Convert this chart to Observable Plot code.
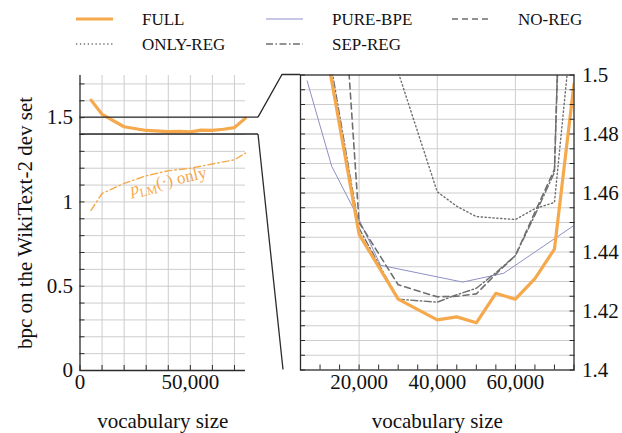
<!DOCTYPE html>
<html><head><meta charset="utf-8">
<script src="https://cdn.jsdelivr.net/npm/d3@7"></script>
<script src="https://cdn.jsdelivr.net/npm/@observablehq/plot@0.6"></script>
<style>
body{margin:0;background:#fff;}
#chart{position:relative;width:622px;height:433px;background:#fff;font-family:"Liberation Serif",LiberationSerif,"DejaVu Serif",serif;}
#chart svg{position:absolute;left:0;top:0;}
#chart svg, #chart svg text{font-family:"Liberation Serif",LiberationSerif,"DejaVu Serif",serif !important;}
</style></head><body><div id="chart"></div>
<script>
// ---- data ----
const seriesNames = ["FULL", "PURE-BPE", "NO-REG", "ONLY-REG", "SEP-REG"];
const vocabFull  = [5000, 10000, 20000, 30000, 40000, 45000, 50000, 55000, 60000, 65000, 70000, 75000];
const bpcFull    = [1.604, 1.52, 1.446, 1.424, 1.417, 1.418, 1.416, 1.426, 1.424, 1.431, 1.441, 1.497];
const vocabBpe   = [6700, 13000, 20000, 25500, 46500, 57000, 75000];
const bpcBpe     = [1.498, 1.469, 1.451, 1.4355, 1.4298, 1.4328, 1.449];
const vocabNoReg = [15000, 20000, 30000, 40000, 45000, 50000, 55000, 60000, 65000, 70000, 75000];
const bpcNoReg   = [1.548, 1.450, 1.4289, 1.4248, 1.425, 1.4258, 1.4325, 1.4388, 1.4535, 1.468, 1.68];
const vocabOnlyReg = [20000, 30000, 40000, 45000, 50000, 60000, 65000, 70000, 75000];
const bpcOnlyReg   = [1.60, 1.501, 1.4604, 1.4555, 1.452, 1.451, 1.4547, 1.4568, 1.524];
const vocabSepReg  = [10000, 20000, 30000, 40000, 45000, 50000, 55000, 60000, 65000, 70000, 75000];
const bpcSepReg    = [1.525, 1.448, 1.424, 1.423, 1.4255, 1.4277, 1.433, 1.4388, 1.4525, 1.467, 1.70];
const vocabPlm = [5000, 10000, 20000, 30000, 40000, 50000, 60000, 70000, 75000];
const bpcPlm   = [0.95, 1.05, 1.11, 1.155, 1.185, 1.20, 1.225, 1.25, 1.29];
const leftTicksX = [0, 50000];
const leftTicksY = [0, 0.5, 1, 1.5];
const rightTicksX = [20000, 40000, 60000];
const rightTicksY = [1.4, 1.42, 1.44, 1.46, 1.48, 1.5];
const xLabel = "vocabulary size";
const yLabel = "bpc on the WikiText-2 dev set";

// ---- styling ----
const W = 622, H = 433;
const FONT = '"Liberation Serif", LiberationSerif, "DejaVu Serif", serif';
const C = {orange: "#f5a94c", bpe: "#8d8fc4", gray: "#6f6f6f", grid: "#cdcdcd", axis: "#2b2b2b"};
const styles = {
  "FULL":     {stroke: C.orange, strokeWidth: 3.2, strokeDasharray: null},
  "PURE-BPE": {stroke: C.bpe, strokeWidth: 1, strokeDasharray: null},
  "NO-REG":   {stroke: C.gray, strokeWidth: 1.6, strokeDasharray: "6,4"},
  "ONLY-REG": {stroke: C.gray, strokeWidth: 1.4, strokeDasharray: "1.3,2.6"},
  "SEP-REG":  {stroke: C.gray, strokeWidth: 1.4, strokeDasharray: "7,2.5,1.5,2.5"}
};
const rows = (xs, ys) => xs.map((x, i) => ({x, y: ys[i]}));
const fullRows = rows(vocabFull, bpcFull);
const seriesRows = {
  "FULL": fullRows,
  "PURE-BPE": rows(vocabBpe, bpcBpe),
  "NO-REG": rows(vocabNoReg, bpcNoReg),
  "ONLY-REG": rows(vocabOnlyReg, bpcOnlyReg),
  "SEP-REG": rows(vocabSepReg, bpcSepReg)
};
const rng = (a, b, s) => d3.range(Math.round((b - a) / s) + 1).map(i => +(a + i * s).toFixed(4));
const baseStyle = {background: "transparent", fontFamily: FONT, fontSize: "21px", overflow: "visible", color: C.axis};

// ---- left panel ----
const left = Plot.plot({
  width: W, height: H,
  marginLeft: 79.5, marginRight: W - 245, marginTop: 75, marginBottom: H - 370,
  style: baseStyle,
  x: {domain: [0, 75000], label: null},
  y: {domain: [0, 1.75], label: null},
  marks: [
    Plot.gridX(rng(10000, 70000, 10000), {stroke: C.grid, strokeOpacity: 1}),
    Plot.gridY(rng(0.1, 1.7, 0.1), {stroke: C.grid, strokeOpacity: 1}),
    Plot.ruleX([0], {stroke: C.axis, strokeWidth: 1.3}),
    Plot.ruleY([0], {stroke: C.axis, strokeWidth: 1.3}),
    Plot.axisY(rng(0, 1.7, 0.1), {anchor: "left", tickSize: 5, dx: 5, tickFormat: () => "", label: null, stroke: C.axis}),
    Plot.axisX(rng(0, 70000, 10000), {anchor: "bottom", tickSize: 5, dy: -5, tickFormat: () => "", label: null, stroke: C.axis}),
    Plot.axisY(leftTicksY, {anchor: "left", tickSize: 0, tickPadding: 7, tickFormat: d => String(d), label: null, fontSize: 21, fill: "#111"}),
    Plot.axisX(leftTicksX, {anchor: "bottom", tickSize: 0, tickPadding: 4, tickFormat: d3.format(","), label: null, fontSize: 21, fill: "#111"}),
    Plot.line(rows(vocabPlm, bpcPlm), {x: "x", y: "y", stroke: C.orange, strokeWidth: 1.4, strokeDasharray: "7,3,1.5,3"}),
    Plot.line(fullRows, {x: "x", y: "y", ...styles["FULL"]}),
    Plot.text([{x: 40000, y: 1.125}], {x: "x", y: "y", text: () => "pLM(·) only", rotate: -13, fill: C.orange, fontSize: 17, className: "plm-label"}),
    Plot.text([xLabel], {text: d => d, frameAnchor: "bottom", lineAnchor: "middle", textAnchor: "middle", dy: 51, fontSize: 21, fill: "#111"}),
    Plot.text([yLabel], {text: d => d, frameAnchor: "left", lineAnchor: "middle", textAnchor: "middle", rotate: -90, dx: -55, fontSize: 21, fill: "#111"})
  ]
});

// ---- right panel (zoom 1.4 .. 1.5) ----
const lineOrder = ["ONLY-REG", "PURE-BPE", "NO-REG", "SEP-REG", "FULL"];
const right = Plot.plot({
  width: W, height: H,
  marginLeft: 300, marginRight: W - 573.5, marginTop: 74.5, marginBottom: H - 369.5,
  style: baseStyle,
  x: {domain: [5000, 75000], label: null},
  y: {domain: [1.4, 1.5], label: null},
  marks: [
    Plot.gridX(rightTicksX, {stroke: C.grid, strokeOpacity: 1}),
    Plot.gridY(rng(1.405, 1.495, 0.005), {stroke: C.grid, strokeOpacity: 1}),
    ...lineOrder.map(n => Plot.line(seriesRows[n], {x: "x", y: "y", clip: true, ...styles[n]})),
    Plot.frame({stroke: C.axis, strokeWidth: 1.3}),
    Plot.axisY(rng(1.4, 1.5, 0.005), {anchor: "left", tickSize: 5, dx: 5, tickFormat: () => "", label: null, stroke: C.axis}),
    Plot.axisY(rng(1.4, 1.5, 0.005), {anchor: "right", tickSize: 5, dx: -5, tickFormat: () => "", label: null, stroke: C.axis}),
    Plot.axisX(rng(5000, 75000, 5000), {anchor: "bottom", tickSize: 5, dy: -5, tickFormat: () => "", label: null, stroke: C.axis}),
    Plot.axisY(rightTicksY, {anchor: "right", tickSize: 0, tickPadding: 8, tickFormat: d => String(d), label: null, fontSize: 21, fill: "#111"}),
    Plot.axisX(rightTicksX, {anchor: "bottom", tickSize: 0, tickPadding: 4, tickFormat: d3.format(","), label: null, fontSize: 21, fill: "#111"}),
    Plot.text([xLabel], {text: d => d, frameAnchor: "bottom", lineAnchor: "middle", textAnchor: "middle", dy: 51, fontSize: 21, fill: "#111"})
  ]
});

const chart = document.getElementById("chart");
chart.appendChild(left);
chart.appendChild(right);

// subscript in the p_LM label
d3.select(left).selectAll(".plm-label text").each(function() {
  const t = d3.select(this);
  t.text(null);
  t.append("tspan").attr("font-style", "italic").text("p");
  t.append("tspan").attr("dy", 4).attr("font-size", 12).text("LM");
  t.append("tspan").attr("dy", -4).text("(·) only");
});

// ---- overlay: zoom connectors and legend ----
const lx = left.scale("x"), ly = left.scale("y"), rx = right.scale("x"), ry = right.scale("y");
const ov = d3.select(chart).append("svg").attr("width", W).attr("height", H)
  .attr("font-family", FONT);
const bandEnd = lx.apply(75000) + 13;
const spyX = rx.apply(5000) - 18;
[1.5, 1.4].forEach(v => {
  ov.append("line").attr("x1", lx.apply(0)).attr("x2", bandEnd)
    .attr("y1", ly.apply(v)).attr("y2", ly.apply(v))
    .attr("stroke", C.axis).attr("stroke-width", 1.3);
});
ov.append("polyline")
  .attr("points", [[bandEnd, ly.apply(1.5)], [spyX, ry.apply(1.5)], [rx.apply(5000), ry.apply(1.5)]].map(p => p.join(",")).join(" "))
  .attr("fill", "none").attr("stroke", C.axis).attr("stroke-width", 1.3);
ov.append("line").attr("x1", bandEnd).attr("y1", ly.apply(1.4))
  .attr("x2", spyX + 1).attr("y2", ry.apply(1.4))
  .attr("stroke", C.axis).attr("stroke-width", 1.3);

// legend
const legendLayout = {"FULL": [0, 0], "PURE-BPE": [1, 0], "NO-REG": [2, 0], "ONLY-REG": [0, 1], "SEP-REG": [1, 1]};
const colX = [76, 266, 452], rowY = [19, 44];
seriesNames.forEach(n => {
  const [c, r] = legendLayout[n];
  const s = styles[n];
  const g = ov.append("g").attr("transform", `translate(${colX[c]},${rowY[r]})`);
  g.append("line").attr("x1", 0).attr("x2", 37).attr("y1", 0).attr("y2", 0)
    .attr("stroke", s.stroke).attr("stroke-width", s.strokeWidth)
    .attr("stroke-dasharray", s.strokeDasharray);
  g.append("text").attr("x", 66).attr("y", 0).attr("dy", "0.35em")
    .attr("font-size", 17).attr("fill", "#111").text(n);
});
</script></body></html>
